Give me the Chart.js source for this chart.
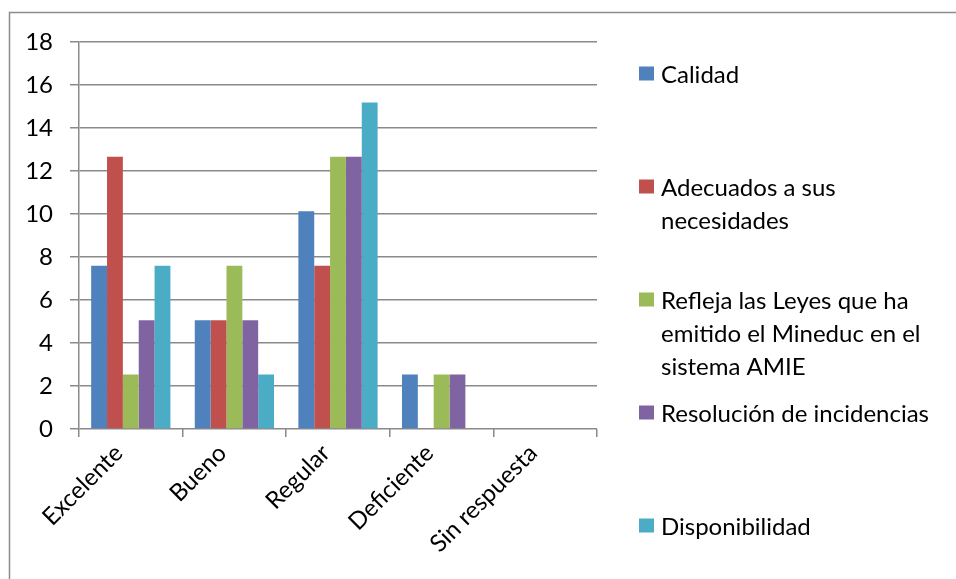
<!DOCTYPE html>
<html>
<head>
<meta charset="utf-8">
<script src="https://cdn.jsdelivr.net/npm/chart.js@4/dist/chart.umd.min.js"></script>
<style>
  html, body { margin: 0; padding: 0; background: #fff; }
  #wrap { width: 956px; height: 579px; }
</style>
</head>
<body>
<div id="wrap"><canvas id="chart"></canvas></div>
<script>
const categories = ['Excelente', 'Bueno', 'Regular', 'Deficiente', 'Sin respuesta'];
const calidad = [7.59, 5.06, 10.13, 2.53, 0];
const adecuados = [12.66, 5.06, 7.59, 0, 0];
const refleja = [2.53, 7.59, 12.66, 2.53, 0];
const resolucion = [5.06, 5.06, 12.66, 2.53, 0];
const disponibilidad = [7.59, 2.53, 15.19, 0, 0];
const seriesLabels = [
    'Calidad',
    'Adecuados a sus\nnecesidades',
    'Refleja las Leyes que ha\nemitido el Mineduc en el\nsistema AMIE',
    'Resolución de incidencias',
    'Disponibilidad'
];
const yMin = 0, yMax = 18, yStep = 2;

const FONT = 'Lato, "Open Sans", sans-serif';
const FONT_SIZE = 24;
const colors = ['#4F81BD', '#C0504D', '#9BBB59', '#8064A2', '#4BACC6'];
const GRID = '#8a8a8a';

// outer frame of the chart object
const framePlugin = {
    id: 'frame',
    beforeDraw(chart) {
        const ctx = chart.ctx;
        ctx.save();
        ctx.fillStyle = '#fff';
        ctx.fillRect(0, 0, chart.width, chart.height);
        ctx.strokeStyle = '#8c8c8c';
        ctx.lineWidth = 1.5;
        ctx.strokeRect(9.5, 12.5, chart.width + 20, chart.height + 20);
        ctx.restore();
    }
};

// legend on the right, entries evenly spaced, long names wrapped
const sideLegend = {
    id: 'sideLegend',
    afterDraw(chart) {
        const ctx = chart.ctx;
        const x0 = chart.chartArea.right + 42;
        const top = 74, step = 113, lineH = 33, box = 15;
        ctx.save();
        ctx.font = FONT_SIZE + 'px ' + FONT;
        ctx.textBaseline = 'middle';
        chart.data.datasets.forEach((ds, i) => {
            const y = top + i * step;
            ctx.fillStyle = ds.backgroundColor;
            ctx.fillRect(x0, y - box / 2, box, box - 1);
            ctx.fillStyle = '#000';
            ds.label.split('\n').forEach((line, j) => {
                ctx.fillText(line, x0 + 22, y + 1 + j * lineH);
            });
        });
        ctx.restore();
    }
};

const series = [calidad, adecuados, refleja, resolucion, disponibilidad];

new Chart(document.getElementById('chart'), {
    type: 'bar',
    data: {
        labels: categories,
        datasets: series.map((values, i) => ({
            label: seriesLabels[i],
            data: values,
            backgroundColor: colors[i],
            borderWidth: 0,
            categoryPercentage: 0.765,
            barPercentage: 1
        }))
    },
    options: {
        responsive: true,
        maintainAspectRatio: false,
        animation: false,
        layout: { padding: { top: 42, right: 359, bottom: 0, left: 0 } },
        plugins: {
            legend: { display: false },
            tooltip: { enabled: false }
        },
        scales: {
            x: {
                grid: { offset: true, drawOnChartArea: false, color: GRID, lineWidth: 1.5, tickLength: 8 },
                border: { display: false },
                ticks: {
                    color: '#000',
                    font: { family: FONT, size: FONT_SIZE },
                    minRotation: 45,
                    maxRotation: 45,
                    labelOffset: -12,
                    padding: 2
                },
                afterFit(scale) { scale.height = 150; }
            },
            y: {
                min: yMin,
                max: yMax,
                ticks: {
                    stepSize: yStep,
                    color: '#000',
                    font: { family: FONT, size: FONT_SIZE },
                    padding: 17
                },
                grid: { color: GRID, lineWidth: 1.5, tickLength: 9 },
                border: { display: true, color: GRID, width: 1.5 },
                afterFit(scale) { scale.width = 79; }
            }
        }
    },
    plugins: [framePlugin, sideLegend]
});
</script>
</body>
</html>
